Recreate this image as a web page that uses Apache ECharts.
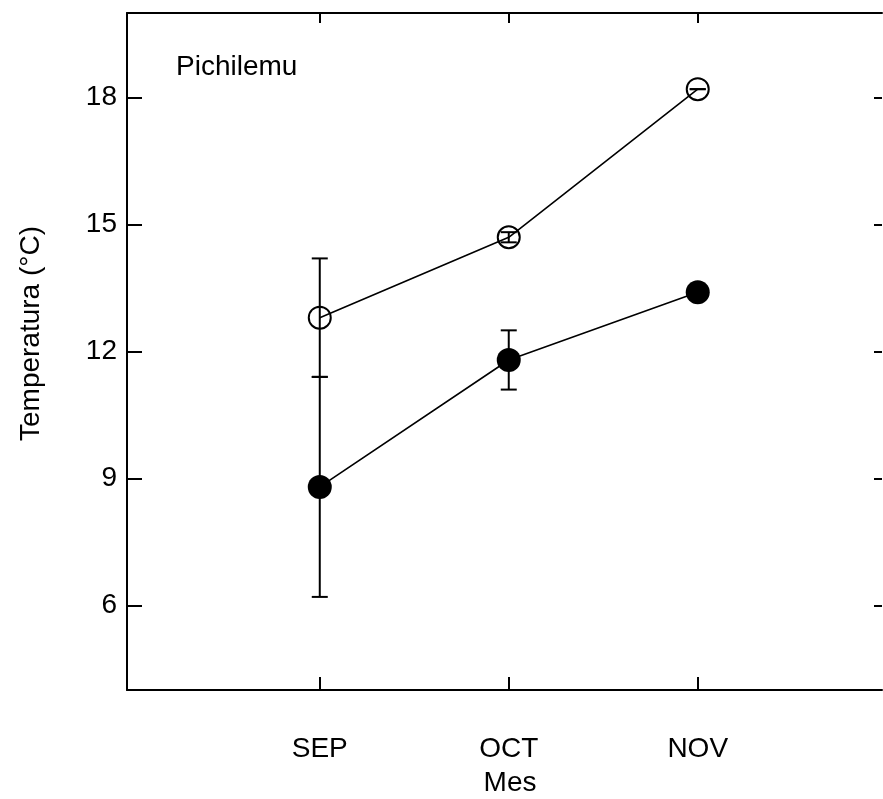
<!DOCTYPE html>
<html>
<head>
<meta charset="utf-8">
<script src="https://cdn.jsdelivr.net/npm/echarts@6/dist/echarts.min.js"></script>
<style>html,body{margin:0;padding:0;background:#fff;}#c{width:883px;height:799px;}</style>
</head>
<body>
<div id="c"></div>
<script>
const months = ['SEP', 'OCT', 'NOV'];
const monthPos = [1, 2, 3];
const yTicks = [6, 9, 12, 15, 18];
const openMean = [12.8, 14.7, 18.2];
const openErr = [1.4, 0.12, 0];
const filledMean = [8.8, 11.8, 13.4];
const filledErr = [2.6, 0.7, 0];

const FONT = '"Liberation Sans", Arial, sans-serif';
const FS = 28;
const chart = echarts.init(document.getElementById('c'), null, {renderer: 'canvas'});

function errData(mean, err) {
  return mean.map((m, i) => [monthPos[i], m - err[i], m + err[i]]);
}
function errRender(params, api) {
  const x = api.value(0);
  const lo = api.coord([x, api.value(1)]);
  const hi = api.coord([x, api.value(2)]);
  const w = 8;
  const st = {stroke: '#000', lineWidth: 2};
  return {
    type: 'group',
    children: [
      {type: 'line', shape: {x1: lo[0], y1: lo[1], x2: hi[0], y2: hi[1]}, style: st},
      {type: 'line', shape: {x1: hi[0] - w, y1: hi[1], x2: hi[0] + w, y2: hi[1]}, style: st},
      {type: 'line', shape: {x1: lo[0] - w, y1: lo[1], x2: lo[0] + w, y2: lo[1]}, style: st}
    ]
  };
}

const option = {
  backgroundColor: '#fff',
  animation: false,
  title: {
    text: 'Pichilemu', left: 176, top: 53, padding: 0,
    textStyle: {fontFamily: FONT, fontSize: FS, fontWeight: 'normal', color: '#000'}
  },
  grid: {left: 127, right: 1, top: 13, bottom: 109, containLabel: false, outerBoundsMode: 'none'},
  xAxis: [
    {
      type: 'value', min: -0.02, max: 3.975, position: 'bottom',
      axisLine: {show: true, onZero: false, lineStyle: {color: '#000', width: 2}},
      axisTick: {show: true, inside: true, length: 13, customValues: monthPos, lineStyle: {color: '#000', width: 2}},
      axisLabel: {show: true, customValues: monthPos, margin: 45, formatter: v => months[Math.round(v) - 1] || '',
        fontFamily: FONT, fontSize: FS, color: '#000'},
      splitLine: {show: false},
      name: 'Mes', nameLocation: 'middle', nameGap: 79,
      nameTextStyle: {fontFamily: FONT, fontSize: FS, color: '#000', padding: [0, 0, 0, 11]}
    },
    {
      type: 'value', min: -0.02, max: 3.975, position: 'top',
      axisLine: {show: true, onZero: false, lineStyle: {color: '#000', width: 2}},
      axisTick: {show: true, inside: true, length: 10, customValues: monthPos, lineStyle: {color: '#000', width: 2}},
      axisLabel: {show: false},
      splitLine: {show: false}
    }
  ],
  yAxis: [
    {
      type: 'value', min: 4, max: 20, position: 'left',
      axisLine: {show: true, onZero: false, lineStyle: {color: '#000', width: 2}},
      axisTick: {show: true, inside: true, length: 15, customValues: yTicks, lineStyle: {color: '#000', width: 2}},
      axisLabel: {show: true, customValues: yTicks, margin: 10, fontFamily: FONT, fontSize: FS, color: '#000'},
      splitLine: {show: false},
      name: 'Temperatura (°C)', nameLocation: 'middle', nameGap: 82, nameRotate: 90,
      nameTextStyle: {fontFamily: FONT, fontSize: FS, color: '#000', padding: [0, 0, 0, 36]}
    },
    {
      type: 'value', min: 4, max: 20, position: 'right',
      axisLine: {show: false, onZero: false},
      axisTick: {show: true, inside: true, length: 8, customValues: yTicks, lineStyle: {color: '#000', width: 2}},
      axisLabel: {show: false},
      splitLine: {show: false}
    }
  ],
  series: [
    {
      type: 'line', data: openMean.map((v, i) => [monthPos[i], v]),
      symbol: 'circle', symbolSize: 22,
      lineStyle: {color: '#000', width: 1.6},
      itemStyle: {color: 'rgba(255,255,255,0)', borderColor: '#000', borderWidth: 2}
    },
    {
      type: 'line', data: filledMean.map((v, i) => [monthPos[i], v]),
      symbol: 'circle', symbolSize: 24,
      lineStyle: {color: '#000', width: 1.6},
      itemStyle: {color: '#000', borderColor: '#000', borderWidth: 0}
    },
    {type: 'custom', renderItem: errRender, data: errData(openMean, openErr), z: 3},
    {type: 'custom', renderItem: errRender, data: errData(filledMean, filledErr), z: 3}
  ]
};
chart.setOption(option);
</script>
</body>
</html>
